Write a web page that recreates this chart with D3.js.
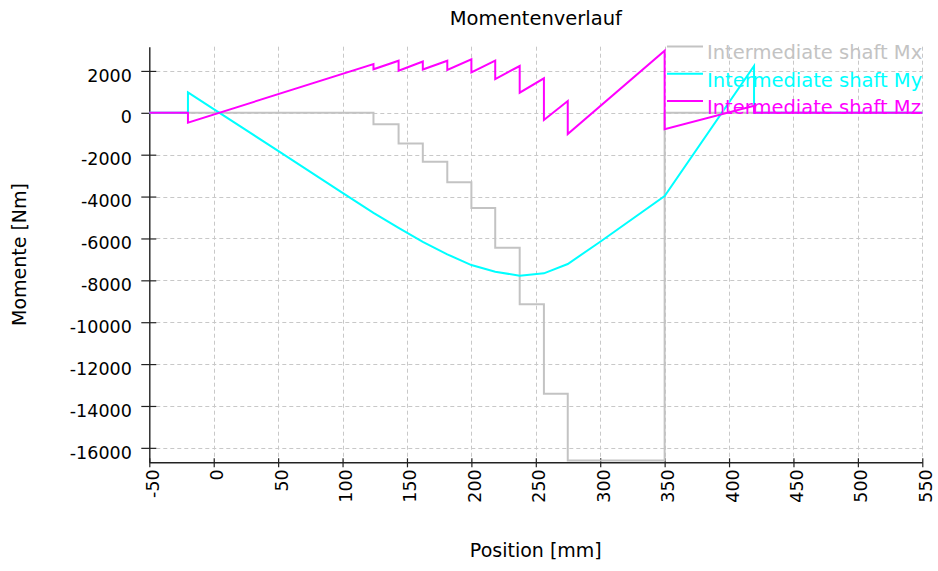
<!DOCTYPE html>
<html>
<head>
<meta charset="utf-8">
<script src="https://cdn.jsdelivr.net/npm/d3@7"></script>
<style>
  html, body { margin: 0; padding: 0; background: #fff; }
  svg { display: block; font-family: "DejaVu Sans", Verdana, sans-serif; }
</style>
</head>
<body>
<svg id="chart" width="938" height="571"></svg>
<script>
// ---- data ----
const title = "Momentenverlauf";
const xTitle = "Position [mm]";
const yTitle = "Momente [Nm]";
const xTicks = [-50, 0, 50, 100, 150, 200, 250, 300, 350, 400, 450, 500, 550];
const yTicks = [2000, 0, -2000, -4000, -6000, -8000, -10000, -12000, -14000, -16000];
const seriesNames = ["Intermediate shaft Mx", "Intermediate shaft My", "Intermediate shaft Mz"];
const seriesColors = ["#c3c3c3", "#00ffff", "#ff00ff"];

// Mx (step function)
const mxPos = [-50, 124, 124, 143.5, 143.5, 162.3, 162.3, 181.3, 181.3, 200, 200, 218.5, 218.5, 237.5, 237.5, 256.3, 256.3, 274.8, 274.8, 350, 350, 550];
const mxVal = [0, 0, -550, -550, -1460, -1460, -2335, -2335, -3320, -3320, -4550, -4550, -6442, -6442, -9145, -9145, -13414, -13414, -16600, -16600, 0, 0];

// My
const myPos = [-50, -20, -20, 0, 50, 100, 124, 143.5, 162.3, 181.3, 200, 218.5, 237.5, 256.3, 274.8, 300, 350, 419.4, 419.4, 550];
const myVal = [0, 0, 979, 180, -1820, -3820, -4781, -5500, -6168, -6757, -7270, -7590, -7779, -7665, -7221, -6156, -3973, 2235, 0, 0];

// Mz
const mzPos = [-50, -20, -20, 124, 124, 143.5, 143.5, 162.3, 162.3, 181.3, 181.3, 200, 200, 218.5, 218.5, 237.5, 237.5, 256.3, 256.3, 274.8, 274.8, 350, 350, 419.4, 419.4, 550];
const mzVal = [0, 0, -473, 2330, 2077, 2488, 2010, 2450, 2068, 2488, 2044, 2555, 1934, 2488, 1614, 2235, 960, 1648, -344, 563, -1012, 2966, -788, 330, 0, 0];

const seriesPos = [mxPos, myPos, mzPos];
const seriesVal = [mxVal, myVal, mzVal];

// ---- layout ----
const svg = d3.select("#chart");
const pL = 149.3, pR = 922.3, pT = 46.7, pB = 462.3;

const x = d3.scaleLinear().domain([-50, 550]).range([pL, pR]);
const y = d3.scaleLinear().domain([-16690, 3157]).range([pB, pT]);
const fmt = d => String(d);

// grid
const grid = svg.append("g").attr("stroke", "#c8c8c8").attr("stroke-width", 1).attr("stroke-dasharray", "4,3");
grid.selectAll("line.v").data(xTicks.filter(d => d !== -50)).enter().append("line")
  .attr("x1", d => Math.round(x(d)) + 0.5).attr("x2", d => Math.round(x(d)) + 0.5)
  .attr("y1", pT).attr("y2", pB);
grid.selectAll("line.h").data(yTicks).enter().append("line")
  .attr("x1", pL + 7).attr("x2", pR)
  .attr("y1", d => Math.round(y(d)) + 0.5).attr("y2", d => Math.round(y(d)) + 0.5);

// axes
const yAxis = d3.axisLeft(y).tickValues(yTicks).tickSizeInner(8).tickSizeOuter(0).tickPadding(9).tickFormat(fmt);
const yg = svg.append("g").attr("transform", `translate(${pL},0)`).call(yAxis);
yg.select(".domain").attr("stroke", "#222").attr("stroke-width", 1.4);
yg.selectAll(".tick line").attr("x1", 7).attr("x2", -8).attr("stroke", "#222").attr("stroke-width", 1.2);
yg.selectAll(".tick text").attr("font-size", "17.5px").attr("font-family", "DejaVu Sans").attr("fill", "#000")
  .attr("x", -17.5).attr("dy", "0.58em");

const xAxis = d3.axisBottom(x).tickValues(xTicks).tickSizeInner(5).tickSizeOuter(0).tickFormat(fmt);
const xg = svg.append("g").attr("transform", `translate(0,${pB})`).call(xAxis);
xg.select(".domain").attr("stroke", "#222").attr("stroke-width", 1.4);
xg.selectAll(".tick line").attr("y1", -4).attr("y2", 5).attr("stroke", "#222").attr("stroke-width", 1.2);
xg.selectAll(".tick text").attr("font-size", "17.5px").attr("font-family", "DejaVu Sans").attr("fill", "#000")
  .attr("text-anchor", "end").attr("x", null).attr("y", null).attr("dy", null)
  .attr("transform", "translate(9,7) rotate(-90)");

// clip
svg.append("clipPath").attr("id", "plotclip").append("rect")
  .attr("x", pL).attr("y", pT - 2).attr("width", pR - pL + 2).attr("height", pB - pT + 2);

// lines
const line = d3.line().x(d => x(d[0])).y(d => y(d[1]));
const lines = svg.append("g").attr("clip-path", "url(#plotclip)");
seriesPos.forEach((pos, i) => {
  const pts = pos.map((p, j) => [p, seriesVal[i][j]]);
  lines.append("path").datum(pts).attr("d", line)
    .attr("fill", "none").attr("stroke", seriesColors[i]).attr("stroke-width", 2)
    .attr("stroke-linejoin", "miter");
});

// legend
const legend = svg.append("g");
seriesNames.forEach((name, i) => {
  const ly = 46.5 + i * 27.2;
  legend.append("line").attr("x1", 667).attr("x2", 703).attr("y1", ly).attr("y2", ly)
    .attr("stroke", seriesColors[i]).attr("stroke-width", 2);
  legend.append("text").attr("x", 707).attr("y", ly + 12.8).text(name)
    .attr("font-size", "19.5px").attr("fill", seriesColors[i]);
});

// titles
svg.append("text").attr("x", (pL + pR) / 2).attr("y", 25).attr("text-anchor", "middle")
  .attr("font-size", "19.5px").attr("fill", "#000").text(title);
svg.append("text").attr("x", (pL + pR) / 2).attr("y", 557).attr("text-anchor", "middle")
  .attr("font-size", "19px").attr("fill", "#000").text(xTitle);
svg.append("text").attr("transform", `translate(26,${(pT + pB) / 2}) rotate(-90)`).attr("text-anchor", "middle")
  .attr("font-size", "19px").attr("fill", "#000").text(yTitle);
</script>
</body>
</html>
